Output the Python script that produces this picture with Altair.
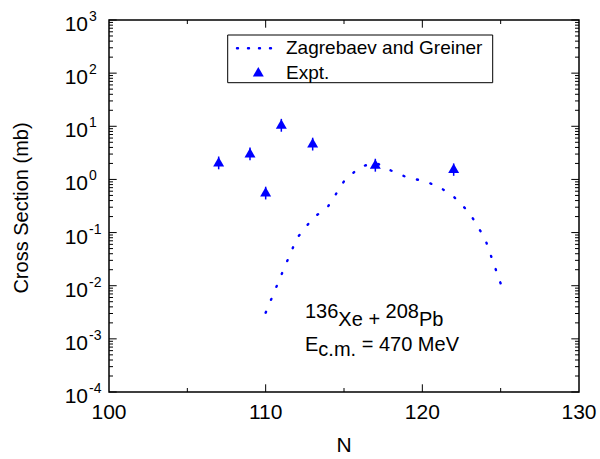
import altair as alt
import pandas as pd

# ---------------- data ----------------
theory_N = [110, 111, 112, 113, 114, 115, 116, 117, 118, 119, 120, 121, 122, 123, 124, 125]
theory_sigma = [3.1e-3, 0.016, 0.079, 0.184, 0.316, 0.92, 1.71, 2.08, 1.47, 1.10, 0.946,
                0.75, 0.475, 0.238, 0.077, 0.011]

expt_N = [107, 109, 110, 111, 113, 117, 122]
expt_sigma = [2.15, 3.18, 0.587, 11.0, 4.9, 1.95, 1.62]
expt_err_lo = [1.55, 2.3, 0.42, 7.9, 3.5, 1.4, 1.17]
expt_err_hi = [2.7, 4.0, 0.73, 13.8, 6.1, 2.45, 2.0]

x_tick_labels = [100, 110, 120, 130]
x_major_ticks = [110, 120]
x_minor_ticks = [105, 115, 125]
y_exponents = [-4, -3, -2, -1, 0, 1, 2, 3]

# ---------------- layout ----------------
W, H = 470, 372
FONT = "Liberation Sans"
BLUE = "#0000ff"

xs = alt.Scale(domain=[100, 130], nice=False, zero=False)
ys = alt.Scale(type="log", domain=[1e-4, 1e3], nice=False)

theory = pd.DataFrame({"N": theory_N, "s": theory_sigma})
expt = pd.DataFrame({"N": expt_N, "s": expt_sigma, "lo": expt_err_lo, "hi": expt_err_hi})
ymaj = pd.DataFrame({"v": [10.0 ** e for e in y_exponents],
                     "e": [str(e) for e in y_exponents]})
ymin = pd.DataFrame({"v": [m * 10.0 ** e for e in y_exponents[:-1] for m in range(2, 10)]})
xlab = pd.DataFrame({"N": x_tick_labels})
xmaj = pd.DataFrame({"N": x_major_ticks})
xmin = pd.DataFrame({"N": x_minor_ticks})
one = alt.Data(values=[{}])

X = lambda f="N": alt.X(f"{f}:Q", scale=xs, axis=None)
Y = lambda f="s": alt.Y(f"{f}:Q", scale=ys, axis=None)

layers = []

# ticks (inward, on all four sides)
for x0, x1 in [(0, 7.7), (W, W - 7.7)]:
    layers.append(alt.Chart(ymaj).mark_rule(color="black", strokeWidth=1).encode(
        y=Y("v"), x=alt.value(x0), x2=alt.value(x1)))
for x0, x1 in [(0, 4), (W, W - 4)]:
    layers.append(alt.Chart(ymin).mark_rule(color="black", strokeWidth=1).encode(
        y=Y("v"), x=alt.value(x0), x2=alt.value(x1)))
for y0, y1 in [(0, 7.7), (H, H - 7.7)]:
    layers.append(alt.Chart(xmaj).mark_rule(color="black", strokeWidth=1).encode(
        x=X(), y=alt.value(y0), y2=alt.value(y1)))
for y0, y1 in [(0, 4), (H, H - 4)]:
    layers.append(alt.Chart(xmin).mark_rule(color="black", strokeWidth=1).encode(
        x=X(), y=alt.value(y0), y2=alt.value(y1)))

# y tick labels 10^k
layers.append(alt.Chart(ymaj).mark_text(font=FONT, fontSize=21, align="right",
                                        baseline="middle", dy=5, color="black").encode(
    y=Y("v"), x=alt.value(-21), text=alt.value("10")))
layers.append(alt.Chart(ymaj).mark_text(font=FONT, fontSize=14, align="left",
                                        baseline="middle", dy=-3, color="black").encode(
    y=Y("v"), x=alt.value(-20), text="e:N"))

# x tick labels
layers.append(alt.Chart(xlab).mark_text(font=FONT, fontSize=21, align="center",
                                        baseline="top", color="black").encode(
    x=X(), y=alt.value(H + 10), text="N:Q"))

# axis titles
layers.append(alt.Chart(one).mark_text(font=FONT, fontSize=21, align="center",
                                       baseline="alphabetic", color="black").encode(
    x=alt.value(W / 2), y=alt.value(432), text=alt.value("N")))
layers.append(alt.Chart(one).mark_text(font=FONT, fontSize=20, align="center",
                                       baseline="middle", angle=270, color="black").encode(
    x=alt.value(-87), y=alt.value(188), text=alt.value("Cross Section (mb)")))

# theory dotted line
layers.append(alt.Chart(theory).mark_line(color=BLUE, strokeWidth=2.4, strokeDash=[1, 13],
                                          strokeCap="round").encode(x=X(), y=Y()))

# experiment
layers.append(alt.Chart(expt).mark_rule(color=BLUE, strokeWidth=1.5).encode(
    x=X(), y=Y("lo"), y2="hi:Q"))
layers.append(alt.Chart(expt).mark_point(shape="triangle-up", filled=True, size=120,
                                         color=BLUE, opacity=1).encode(x=X(), y=Y()))

# legend
layers.append(alt.Chart(one).mark_rect(fill="white", stroke="black", strokeWidth=1).encode(
    x=alt.value(118.7), x2=alt.value(383.7), y=alt.value(15), y2=alt.value(62.7)))
layers.append(alt.Chart(one).mark_rule(color=BLUE, strokeWidth=2.4, strokeDash=[1, 10],
                                       strokeCap="round").encode(
    x=alt.value(128), x2=alt.value(171), y=alt.value(28.3)))
layers.append(alt.Chart(one).mark_point(shape="triangle-up", filled=True, size=120,
                                        color=BLUE, opacity=1).encode(
    x=alt.value(149.3), y=alt.value(51.7)))
layers.append(alt.Chart(one).mark_text(font=FONT, fontSize=19, align="left",
                                       baseline="middle", color="black").encode(
    x=alt.value(177), y=alt.value(28.3), text=alt.value("Zagrebaev and Greiner")))
layers.append(alt.Chart(one).mark_text(font=FONT, fontSize=19, align="left",
                                       baseline="middle", color="black").encode(
    x=alt.value(177), y=alt.value(53.3), text=alt.value("Expt.")))

# annotation: 136Xe + 208Pb / E_c.m. = 470 MeV
FS = 20
def w(em):
    return em * FS
ax0, b1, b2 = 196, 306, 331
parts = [
    ("136", ax0, b1 - 8),
    ("Xe +", ax0 + w(1.668), b1),
    ("208", ax0 + w(1.668 + 1.223 + 0.278 + 0.584 + 0.278), b1 - 8),
    ("Pb", ax0 + w(1.668 + 1.223 + 0.278 + 0.584 + 0.278 + 1.668), b1),
    ("E", ax0, b2),
    ("c.m.", ax0 + w(0.667), b2 + 5),
    ("= 470 MeV", ax0 + w(0.667 + 1.889 + 0.278), b2),
]
for t, px, py in parts:
    layers.append(alt.Chart(one).mark_text(font=FONT, fontSize=FS, align="left",
                                           baseline="alphabetic", color="black").encode(
        x=alt.value(px), y=alt.value(py), text=alt.value(t)))

chart = alt.layer(*layers).properties(
    width=W, height=H,
    autosize=alt.AutoSizeParams(type="none"),
    padding={"left": 109, "top": 20, "right": 21, "bottom": 67},
    background="white",
).configure_view(stroke="black", strokeWidth=1.5)

chart.save("out.html", embed_options={"renderer": "svg", "actions": False})
